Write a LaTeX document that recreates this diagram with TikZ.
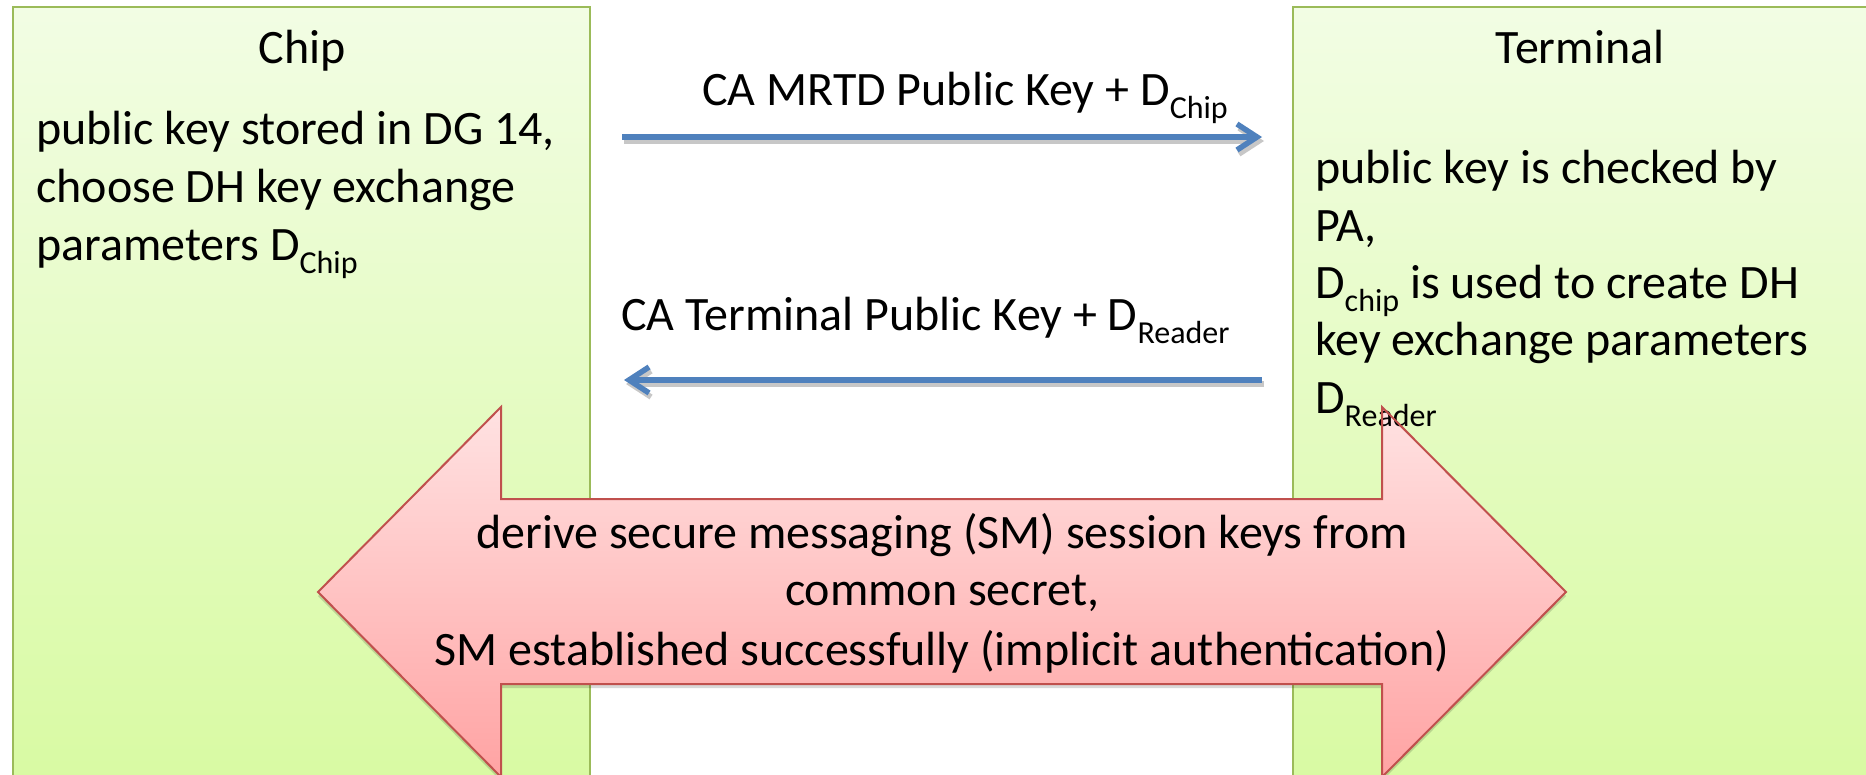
\documentclass[tikz,border=0pt]{standalone}
\usepackage{fontspec}
\setmainfont{Carlito}
\usetikzlibrary{arrows.meta}
\definecolor{boxtop}{HTML}{F2FDE4}
\definecolor{boxbot}{HTML}{D8FAA2}
\definecolor{boxline}{HTML}{9BBB59}
\definecolor{arrtop}{HTML}{FFE2E2}
\definecolor{arrbot}{HTML}{FFA3A3}
\definecolor{arrline}{HTML}{C0504D}
\definecolor{blueline}{HTML}{4F81BD}
\newcommand{\subtxt}[1]{\raisebox{-13pt}{\fontsize{32}{32}\selectfont #1}}
\begin{document}
\begin{tikzpicture}[x=1pt,y=-1pt,
  party/.style={draw=boxline, line width=2pt, top color=boxtop, bottom color=boxbot},
  txt/.style={anchor=base west, inner sep=0pt, font=\fontsize{48}{58}\selectfont},
  ctxt/.style={anchor=base, inner sep=0pt, font=\fontsize{48}{58}\selectfont},
  msg/.style={draw=blueline, line width=5.5pt, -{Straight Barb[length=20pt,width=26pt]}},
  msgshadow/.style={draw=black!22, line width=5.5pt, -{Straight Barb[length=20pt,width=26pt]}},
  bigfill/.style={top color=arrtop, bottom color=arrbot},
  bigline/.style={draw=arrline, line width=2pt, line join=miter},
]
\useasboundingbox (0,0) rectangle (1866,774);
\clip (0,0) rectangle (1866,774);
\fill[white] (0,0) rectangle (1866,774);

% party boxes
\path[party] (13,7) rectangle (590,790);
\path[party] (1293,7) rectangle (1890,790);

% messages
\coordinate (m1s) at (622,137);
\coordinate (m1e) at (1262,137);
\coordinate (m2s) at (1262,380);
\coordinate (m2e) at (624,380);
\draw[msgshadow] ([shift={(2,4)}]m1s) -- ([shift={(2,4)}]m1e);
\draw[msg] (m1s) -- (m1e);
\draw[msgshadow] ([shift={(2,4)}]m2s) -- ([shift={(2,4)}]m2e);
\draw[msg] (m2s) -- (m2e);
\node[txt] (m1lab) at (702,105) {CA MRTD Public Key + D\subtxt{Chip}};
\node[txt] (m2lab) at (621,330) {CA Terminal Public Key + D\subtxt{Reader}};

% big double arrow (fill)
\fill[black, opacity=0.15] (318,596) -- (501,411) -- (501,503) -- (1382,503) -- (1382,411) -- (1566,596) -- (1382,781) -- (1382,688) -- (501,688) -- (501,781) -- cycle;
\path[bigfill] (318,592) -- (501,407) -- (501,499) -- (1382,499) -- (1382,407) -- (1566,592) -- (1382,777) -- (1382,684) -- (501,684) -- (501,777) -- cycle;

% chip texts
\node[ctxt] (chiptitle) at (302,63) {Chip};
\node[txt] (chip1) at (36,144) {public key stored in DG 14,};
\node[txt] (chip2) at (36,202) {choose DH key exchange};
\node[txt] (chip3) at (36,260) {parameters D\subtxt{Chip}};

% terminal texts
\node[ctxt] (termtitle) at (1580,63) {Terminal};
\node[txt] (term1) at (1315,183) {public key is checked by};
\node[txt] (term2) at (1315,241) {PA,};
\node[txt] (term3) at (1315,298) {D\subtxt{chip} is used to create DH};
\node[txt] (term4) at (1315,355) {key exchange parameters};
\node[txt] (term5) at (1315,413) {D\subtxt{Reader}};

% big arrow outline
\path[bigline] (318,592) -- (501,407) -- (501,499) -- (1382,499) -- (1382,407) -- (1566,592) -- (1382,777) -- (1382,684) -- (501,684) -- (501,777) -- cycle;

% shared outcome text
\node[ctxt] (sm1) at (942,548) {derive secure messaging (SM) session keys from};
\node[ctxt] (sm2) at (942,605) {common secret,};
\node[ctxt] (sm3) at (942,665) {SM established successfully (implicit authentication)};
\end{tikzpicture}
\end{document}
